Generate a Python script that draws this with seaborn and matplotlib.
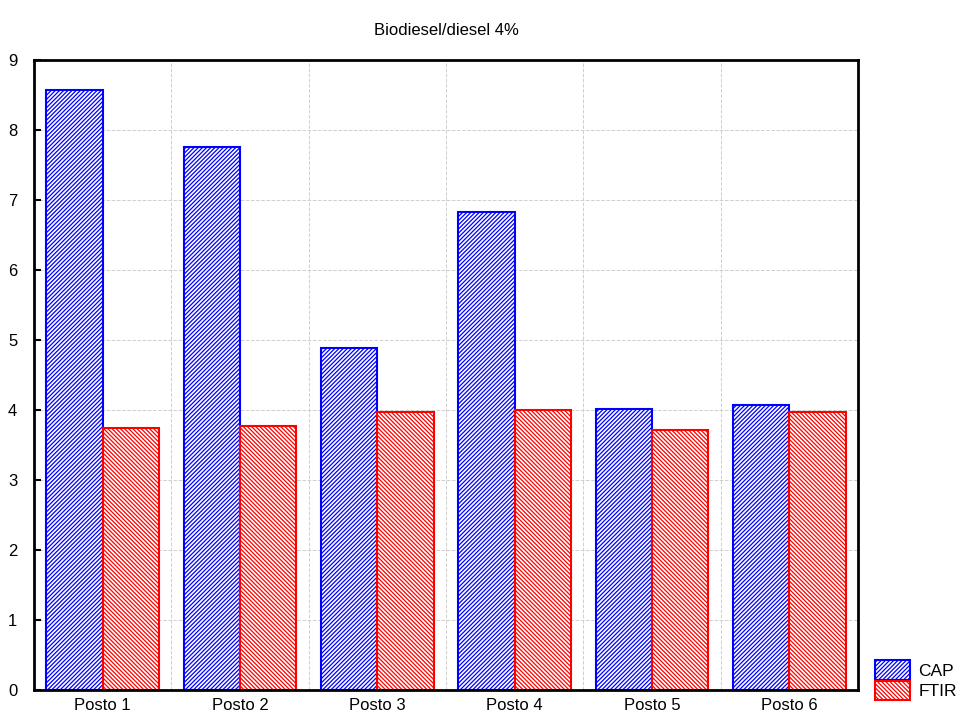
import pandas as pd
import numpy as np
import matplotlib
matplotlib.use("Agg")
import matplotlib.pyplot as plt
from matplotlib.patches import Patch
import seaborn as sns

# data
postos = ["Posto 1", "Posto 2", "Posto 3", "Posto 4", "Posto 5", "Posto 6"]
cap = [8.57, 7.76, 4.89, 6.83, 4.01, 4.07]
ftir = [3.74, 3.77, 3.97, 4.00, 3.71, 3.97]
series = ["CAP", "FTIR"]

df = pd.DataFrame({
    "posto": postos * 2,
    "valor": cap + ftir,
    "metodo": ["CAP"] * len(postos) + ["FTIR"] * len(postos),
})

sns.set_style("white")
plt.rcParams["font.family"] = ["Liberation Sans", "DejaVu Sans"]
plt.rcParams["text.color"] = "black"
plt.rcParams["xtick.color"] = "black"
plt.rcParams["ytick.color"] = "black"
plt.rcParams["hatch.linewidth"] = 0.9

fig = plt.figure(figsize=(9.69, 7.2), dpi=100)
ax = fig.add_axes([34 / 969, 30 / 720, 824 / 969, 630 / 720])

cores = {"CAP": "#0000ff", "FTIR": "#ff0000"}
hatches = {"CAP": "////////", "FTIR": "\\\\\\\\\\\\\\\\"}

sns.barplot(data=df, x="posto", y="valor", hue="metodo", order=postos,
            hue_order=series, width=0.82, ax=ax, legend=False,
            palette=cores, saturation=1)

# white fill, coloured edges and hatching
n = len(postos)
for i, bar in enumerate(ax.patches[: 2 * n]):
    nome = series[i // n]
    bar.set_facecolor("white")
    bar.set_hatch(hatches[nome])
    bar.set_edgecolor(cores[nome])
    bar.set_linewidth(1.5)

ax.set_xlim(-0.5, n - 0.5)
ax.set_ylim(0, 9)
ax.set_yticks(range(0, 10))
ax.set_xlabel("")
ax.set_ylabel("")
ax.set_title("Biodiesel/diesel 4%", fontsize=12, pad=18)

ax.set_xticks(np.arange(0.5, n - 0.5), minor=True)
ax.grid(True, axis="y", linestyle="--", color="#cfcfcf", linewidth=0.7)
ax.grid(True, axis="x", which="minor", linestyle="--", color="#cfcfcf", linewidth=0.7)
ax.set_axisbelow(True)
ax.tick_params(axis="x", which="major", length=0, labelsize=12, pad=6)
ax.tick_params(axis="x", which="minor", direction="in", length=4, width=1.2)
ax.tick_params(axis="y", direction="in", length=5, width=1.5, labelsize=12, pad=12, left=True)
for s in ax.spines.values():
    s.set_linewidth(2)
    s.set_color("black")

handles = [Patch(facecolor="white", edgecolor=cores[s], hatch=hatches[s], linewidth=1.5, label=s)
           for s in series]
fig.legend(handles=handles, loc="lower left", bbox_to_anchor=(875 / 969, 20 / 720),
           frameon=False, fontsize=12.5, handlelength=2.0, handleheight=1.35,
           handletextpad=0.5, labelspacing=0.05, borderaxespad=0, borderpad=0)

fig.savefig("out.png", dpi=100)
